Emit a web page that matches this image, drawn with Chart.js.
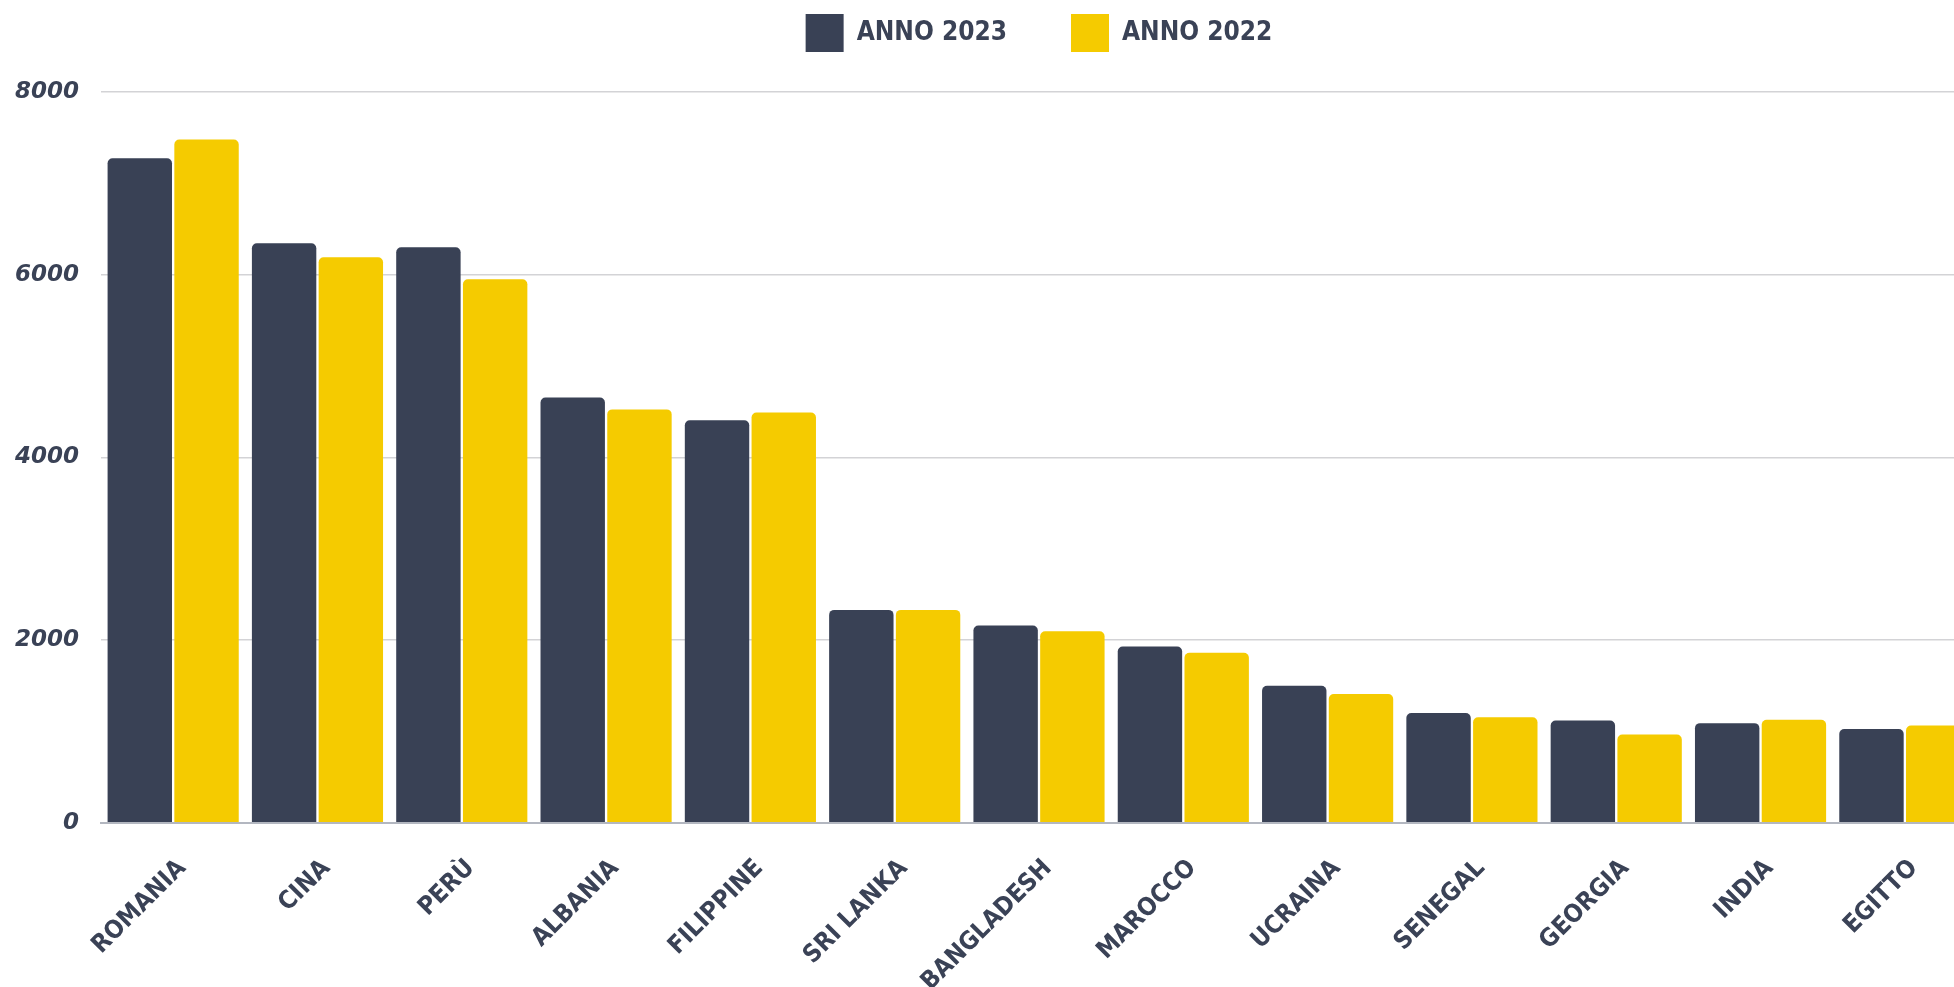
<!DOCTYPE html>
<html>
<head>
<meta charset="utf-8">
<script src="https://cdn.jsdelivr.net/npm/chart.js@4.4.0/dist/chart.umd.min.js"></script>
<style>
  html, body { margin: 0; padding: 0; background: #fff; overflow: hidden; }
  #wrap { width: 1985px; height: 1020px; position: relative; }
</style>
</head>
<body>
<div id="wrap"><canvas id="myChart"></canvas></div>
<script>
// paesi (asse x)
const paesi = ["ROMANIA", "CINA", "PERÙ", "ALBANIA", "FILIPPINE", "SRI LANKA", "BANGLADESH",
  "MAROCCO", "UCRAINA", "SENEGAL", "GEORGIA", "INDIA", "EGITTO"];
// valori
const anno2023 = [7275, 6345, 6300, 4655, 4405, 2330, 2160, 1930, 1500, 1200, 1120, 1090, 1025];
const anno2022 = [7480, 6190, 5950, 4525, 4490, 2330, 2095, 1860, 1408, 1155, 965, 1128, 1065];
const yTicks = [0, 2000, 4000, 6000, 8000];

const scuro = "#394155";
const giallo = "#f5cb00";
const testo = "#3a4256";

const ctx = document.getElementById("myChart");
const myChart = new Chart(ctx, {
  type: "bar",
  data: {
    labels: paesi,
    datasets: [
      {
        label: "ANNO 2023",
        data: anno2023,
        backgroundColor: scuro,
        borderWidth: 0,
        borderRadius: { topLeft: 5, topRight: 5 },
        borderSkipped: "bottom",
      },
      {
        label: "ANNO 2022",
        data: anno2022,
        backgroundColor: giallo,
        borderWidth: 0,
        borderRadius: { topLeft: 5, topRight: 5 },
        borderSkipped: "bottom",
      },
    ],
  },
  options: {
    responsive: true,
    maintainAspectRatio: false,
    animation: false,
    categoryPercentage: 0.925,
    barPercentage: 0.965,
    layout: { padding: { top: -50, left: -7, right: 8, bottom: 0 } },
    plugins: {
      tooltip: { enabled: false },
      legend: {
        position: "top",
        fullSize: false,
        labels: {
          boxWidth: 38,
          boxHeight: 38,
          padding: 64,
          color: testo,
          font: { family: "'DejaVu Sans Condensed', 'DejaVu Sans'", size: 26, weight: "bold" },
        },
      },
      // spazio vuoto fra legenda e grafico
      subtitle: {
        display: true,
        text: " ",
        position: "top",
        fullSize: false,
        weight: 500,
        font: { size: 10 },
        padding: { top: 0, bottom: 18 },
      },
    },
    scales: {
      x: {
        grid: { display: false },
        border: { display: true, color: "#b3b7c0", width: 2 },
        afterFit: (scale) => { scale.paddingLeft = 0; },
        ticks: {
          color: testo,
          minRotation: 45,
          maxRotation: 45,
          padding: 23,
          labelOffset: 9,
          autoSkip: false,
          font: { family: "'DejaVu Sans Condensed', 'DejaVu Sans'", size: 25, weight: "bold" },
        },
      },
      y: {
        min: 0,
        max: 8000,
        afterBuildTicks: (axis) => { axis.ticks = yTicks.map((v) => ({ value: v })); },
        grid: { color: "#d3d3d6", lineWidth: 1.5, drawTicks: false },
        border: { display: false },
        ticks: {
          color: testo,
          padding: 22,
          callback: (v) => String(v),
          font: { family: "'DejaVu Sans'", size: 23, weight: "bold", style: "italic" },
        },
      },
    },
  },
});
</script>
</body>
</html>
